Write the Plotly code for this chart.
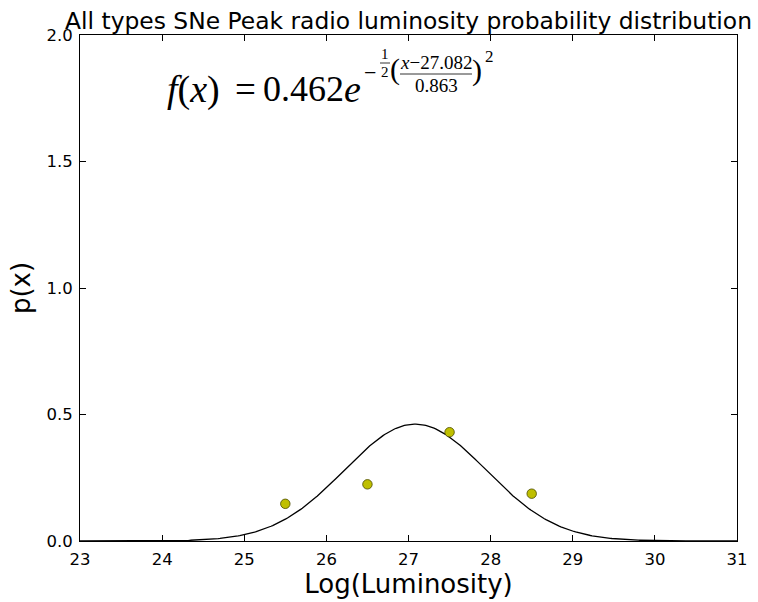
import numpy as np
import plotly.graph_objects as go

# ---- data ----
lum_bins = [25.5, 26.5, 27.5, 28.5]
prob_values = [0.147, 0.224, 0.430, 0.187]
FIT_AMP = 0.462
FIT_MU = 27.082
FIT_SIGMA = 0.863
x_ticks = [23, 24, 25, 26, 27, 28, 29, 30, 31]
y_ticks = [0.0, 0.5, 1.0, 1.5, 2.0]

W, H = 758, 602
L, R, T, B = 80, 737, 35, 541

x_curve = np.linspace(23, 31, 400)
y_curve = FIT_AMP * np.exp(-0.5 * ((x_curve - FIT_MU) / FIT_SIGMA) ** 2)

fig = go.Figure()
fig.add_trace(go.Scatter(x=x_curve, y=y_curve, mode="lines",
                         line=dict(color="black", width=1.3), showlegend=False))
fig.add_trace(go.Scatter(x=lum_bins, y=prob_values, mode="markers",
                         marker=dict(color="#bfbf00", size=9.5,
                                     line=dict(color="#4a4a00", width=0.8)),
                         showlegend=False))

def px(x):
    return (x - L) / (R - L)

def py(y):
    return (B - y) / (B - T)

MATH = "Liberation Serif"
anns = []
def ann(text, x, y, size, xanchor="center"):
    anns.append(dict(text=text, x=px(x), y=py(y), xref="paper", yref="paper",
                     xanchor=xanchor, yanchor="middle", showarrow=False,
                     font=dict(family=MATH, size=size, color="black")))

# main part of the fitted formula
ann("<i>f</i>(<i>x</i>)", 165, 89, 38, "left")
ann("=", 245, 89, 37)
ann("0.462", 303, 89, 36)
ann("<i>e</i>", 352, 89, 38)
# exponent
ann("−", 370, 72, 22)
ann("1", 385, 54, 15)
ann("2", 385, 72, 15)
ann("(", 395, 69, 30)
ann("<i>x</i>−27.082", 436, 62, 19)
ann("0.863", 436, 85, 19)
ann(")", 477, 70, 30)
ann("2", 489, 57, 17)

shapes = [
    dict(type="line", xref="paper", yref="paper", x0=px(380), x1=px(390),
         y0=py(63), y1=py(63), line=dict(color="black", width=0.8)),
    dict(type="line", xref="paper", yref="paper", x0=px(400), x1=px(472),
         y0=py(74), y1=py(74), line=dict(color="black", width=0.8)),
]

axis_common = dict(showgrid=False, zeroline=False, showline=True, linecolor="black",
                   linewidth=1, mirror="allticks", ticks="inside", ticklen=6,
                   tickcolor="black", tickwidth=1, automargin=False,
                   ticklabelstandoff=3,
                   tickfont=dict(family="DejaVu Sans", size=16.5, color="black"))

fig.update_layout(
    width=W, height=H,
    margin=dict(l=L, r=W - R, t=T, b=H - B),
    paper_bgcolor="white", plot_bgcolor="white",
    title=dict(text="All types SNe Peak radio luminosity probability distribution",
               x=0.5, xref="paper", xanchor="center",
               y=1 - 21 / H, yref="container", yanchor="middle",
               font=dict(family="DejaVu Sans", size=23.4, color="black")),
    xaxis=dict(range=[23, 31], tickvals=x_ticks, ticktext=[str(v) for v in x_ticks],
               title=dict(text="Log(Luminosity)", standoff=6,
                          font=dict(family="DejaVu Sans", size=26, color="black")),
               **axis_common),
    yaxis=dict(range=[0, 2], tickvals=y_ticks, ticktext=[f"{v:.1f}" for v in y_ticks],
               title=dict(text="p(x)", standoff=8,
                          font=dict(family="DejaVu Sans", size=26, color="black")),
               **axis_common),
    annotations=anns,
    shapes=shapes,
)

fig.write_html("out.html")
